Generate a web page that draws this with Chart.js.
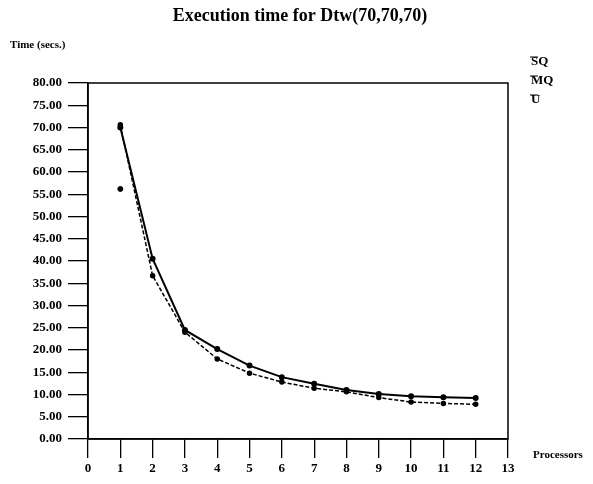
<!DOCTYPE html>
<html>
<head>
<meta charset="utf-8">
<script src="https://cdn.jsdelivr.net/npm/chart.js@4/dist/chart.umd.min.js"></script>
<style>
  body { margin: 0; background: #fff; }
  canvas { display: block; }
</style>
</head>
<body>
<canvas id="dtwChart" width="593" height="484"></canvas>
<script>
// Procesadores (eje x) y tiempos
const processors = [1, 2, 3, 4, 5, 6, 7, 8, 9, 10, 11, 12];
const sqTimes = [70.0, 40.5, 24.5, 20.2, 16.5, 13.9, 12.4, 11.0, 10.1, 9.6, 9.4, 9.2];
const mqTimes = [70.6, 36.7, 24.0, 18.0, 14.8, 12.8, 11.4, 10.6, 9.3, 8.3, 8.0, 7.8];
const uProcessors = [1];
const uTimes = [56.2];
const legendLabels = ['SQ', 'MQ', 'U'];
const yTicks = [0, 5, 10, 15, 20, 25, 30, 35, 40, 45, 50, 55, 60, 65, 70, 75, 80];

const serif = '"Liberation Serif", "DejaVu Serif", serif';

function toPoints(xs, ys) {
    return xs.map((x, i) => ({ x: x, y: ys[i] }));
}

// Marco, titulo y textos sueltos
const decorPlugin = {
    id: 'decor',
    afterDraw(chart) {
        const ctx = chart.ctx;
        const a = chart.chartArea;
        ctx.save();
        ctx.strokeStyle = '#000';
        ctx.lineWidth = 1.5;
        ctx.strokeRect(a.left, a.top, a.right - a.left, a.bottom - a.top);

        ctx.fillStyle = '#000';
        ctx.textBaseline = 'middle';
        ctx.font = 'bold 18px ' + serif;
        ctx.textAlign = 'center';
        ctx.fillText('Execution time for Dtw(70,70,70)', 300, 16);

        ctx.textAlign = 'left';
        ctx.font = 'bold 11px ' + serif;
        ctx.fillText('Time (secs.)', 10, 45);
        ctx.fillText('Processors', 533, 455);

        // leyenda
        ctx.font = 'bold 13px ' + serif;
        const ys = [62, 81, 100];
        legendLabels.forEach((lab, i) => {
            ctx.fillText(lab, 531, ys[i]);
            ctx.beginPath();
            ctx.lineWidth = 1;
            ctx.moveTo(530, ys[i] - 5);
            ctx.lineTo(538, ys[i] - 5);
            ctx.stroke();
        });
        ctx.restore();
    }
};

new Chart(document.getElementById('dtwChart'), {
    type: 'line',
    data: {
        datasets: [
            {
                label: 'SQ',
                data: toPoints(processors, sqTimes),
                borderColor: '#000',
                backgroundColor: '#000',
                borderWidth: 2,
                pointRadius: 2,
                tension: 0
            },
            {
                label: 'MQ',
                data: toPoints(processors, mqTimes),
                borderColor: '#000',
                backgroundColor: '#000',
                borderWidth: 1.5,
                borderDash: [4, 2],
                pointRadius: 2,
                tension: 0
            },
            {
                label: 'U',
                data: toPoints(uProcessors, uTimes),
                borderColor: '#000',
                backgroundColor: '#000',
                showLine: false,
                pointRadius: 2.5
            }
        ]
    },
    options: {
        responsive: false,
        animation: false,
        layout: { padding: { top: 83, right: 85, left: 0, bottom: 0 } },
        plugins: {
            legend: { display: false },
            tooltip: { enabled: false }
        },
        scales: {
            x: {
                type: 'linear',
                min: 0,
                max: 13,
                afterFit: s => { s.height = 45; },
                grid: { drawOnChartArea: false, tickLength: 19, color: '#000', lineWidth: 1.3 },
                border: { color: '#000', width: 1.5 },
                ticks: {
                    stepSize: 1,
                    padding: 3,
                    color: '#000',
                    font: { family: serif, size: 13, weight: 'bold' }
                }
            },
            y: {
                min: 0,
                max: 80,
                afterFit: s => { s.width = 88; },
                afterBuildTicks: s => { s.ticks = yTicks.map(v => ({ value: v })); },
                grid: { drawOnChartArea: false, tickLength: 20, color: '#000', lineWidth: 1.3 },
                border: { color: '#000', width: 1.5 },
                ticks: {
                    padding: 6,
                    color: '#000',
                    font: { family: serif, size: 13, weight: 'bold' },
                    callback: v => v.toFixed(2)
                }
            }
        }
    },
    plugins: [decorPlugin]
});
</script>
</body>
</html>
